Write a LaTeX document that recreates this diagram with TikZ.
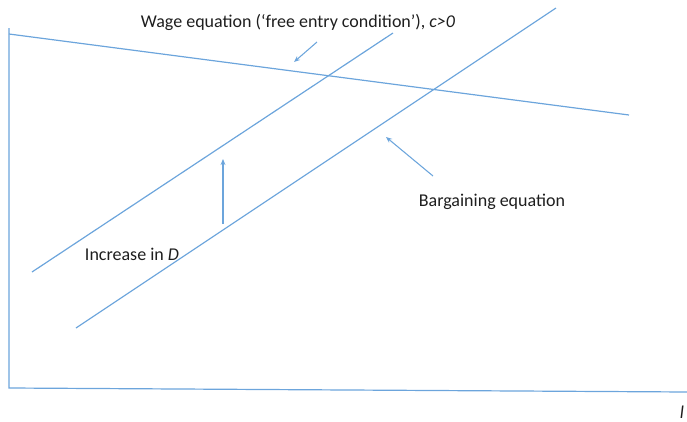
\documentclass[tikz,border=0pt]{standalone}
\usepackage{fontspec}
\setmainfont{Carlito}
\usetikzlibrary{arrows.meta,positioning}
\definecolor{curveblue}{RGB}{108,165,220}
\definecolor{labeltext}{RGB}{30,30,30}

\begin{document}
\begin{tikzpicture}[x=0.75pt, y=-0.75pt,
    curve/.style={draw=curveblue, line width=0.9pt},
    arr/.style={-{Stealth[length=1.6mm, width=1.3mm]}, curveblue, line width=0.8pt},
    lbl/.style={font=\fontsize{13.5}{16}\selectfont, text=labeltext, inner sep=0pt}
]
\useasboundingbox (0,0) rectangle (687,422);

% axes
\coordinate (ytop)   at (9,28);
\coordinate (origin) at (9,388);
\coordinate (xend)   at (687,392);
\draw[curve] (ytop) -- (origin) -- (xend);

% curves
\coordinate (w1) at (9,34);   \coordinate (w2) at (629,115);
\coordinate (b1) at (32,272); \coordinate (b2) at (393,33);
\coordinate (c1) at (76,328); \coordinate (c2) at (556,8);
\draw[curve] (w1) -- (w2);
\draw[curve] (b1) -- (b2);
\draw[curve] (c1) -- (c2);

% labels
\node[lbl] (wage) at (298,22) {Wage equation (`free entry condition'), \textit{c>0}};
\node[lbl] (barg) at (492,202) {Bargaining equation};
\node[lbl] (incr) at (132,254) {Increase in \textit{D}};
\node[lbl] (lab) at (682,412) {\textit{l}};

% pointers
\coordinate (wtail) at (317,42);  \coordinate (wtip) at (294,62);
\coordinate (btail) at (433,176); \coordinate (btip) at (386,137);
\coordinate (utail) at (223,224); \coordinate (utip) at (223,159);
\draw[arr] (wtail) -- (wtip);
\draw[arr] (btail) -- (btip);
\draw[arr] (utail) -- (utip);
\end{tikzpicture}
\end{document}
